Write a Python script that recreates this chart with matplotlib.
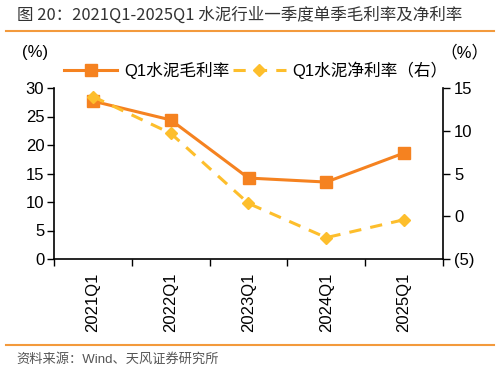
import matplotlib
matplotlib.use("Agg")
import matplotlib.pyplot as plt
from matplotlib.lines import Line2D
import numpy as np

plt.rcParams['font.family'] = ['Liberation Sans', 'Noto Sans CJK SC', 'DejaVu Sans']

categories = ["2021Q1", "2022Q1", "2023Q1", "2024Q1", "2025Q1"]
gross_margin = [27.7, 24.4, 14.2, 13.5, 18.6]
net_margin = [14.0, 9.7, 1.5, -2.5, -0.4]
left_ticks = [0, 5, 10, 15, 20, 25, 30]
right_ticks = [-5, 0, 5, 10, 15]
right_labels = ["(5)", "0", "5", "10", "15"]

orange = "#F58220"
yellow = "#FDBE2C"

W, H = 499, 372
fig = plt.figure(figsize=(W/100, H/100), dpi=100)
ax = fig.add_axes([54/W, 1-259/H, (443-54)/W, (259-88)/H])
ax2 = ax.twinx()

x = np.arange(len(categories))
ax.plot(x, gross_margin, color=orange, lw=2.2, marker='s', ms=8, zorder=3)
ax2.plot(x, net_margin, color=yellow, lw=2.2, ls=(0, (4, 3)), marker='D', ms=6, zorder=3)

ax.set_xlim(-0.5, len(categories)-0.5)
ax.set_ylim(0, 30)
ax2.set_ylim(-5, 15)
ax.set_yticks(left_ticks)
ax.set_yticklabels([str(t) for t in left_ticks])
ax2.set_yticks(right_ticks)
ax2.set_yticklabels(right_labels)

ax.set_xticks(np.arange(-0.5, len(categories)), minor=False)
ax.set_xticklabels([])
ax.set_xticks(x, minor=True)
ax.set_xticklabels(categories, minor=True, rotation=90, fontsize=12)
ax.tick_params(axis='x', which='major', length=5, direction='out', width=1)
ax.tick_params(axis='x', which='minor', length=0, pad=10)
ax.tick_params(axis='y', labelsize=12, length=5, width=1, direction='out', pad=2)
ax2.tick_params(axis='y', labelsize=12, length=5, width=1, direction='out', pad=3)

for a in (ax, ax2):
    a.spines['top'].set_visible(False)
ax.spines['right'].set_visible(False)
ax2.spines['left'].set_visible(False)
ax2.spines['bottom'].set_visible(False)
for s in ['left', 'bottom']:
    ax.spines[s].set_linewidth(1.2)
ax2.spines['right'].set_linewidth(1.2)

fig.text(22/W, 1-52/H, "(%)", fontsize=12, ha='left', va='center')
fig.text(440/W, 1-52/H, "（%）", fontsize=12, ha='left', va='center')

handles = [Line2D([], [], color=orange, lw=2.2, marker='s', ms=8),
           Line2D([], [], color=yellow, lw=2.2, ls=(0, (4, 3)), marker='D', ms=6)]
fig.legend(handles, ["Q1水泥毛利率", "Q1水泥净利率（右）"], loc='center',
           bbox_to_anchor=(256/W, 1-70/H), ncol=2, frameon=False, fontsize=12,
           handlelength=3.2, columnspacing=0.2, handletextpad=0.4)

fig.text(17/W, 1-15/H, "图 20：2021Q1-2025Q1 水泥行业一季度单季毛利率及净利率",
         fontsize=11.9, color='#333333', ha='left', va='center',
         family=['Noto Sans CJK SC', 'DejaVu Sans'], fontweight='medium')
fig.add_artist(Line2D([6/W, 494/W], [1-31/H, 1-31/H], color='#F39A3C', lw=1.5))
fig.add_artist(Line2D([6/W, 494/W], [1-345/H, 1-345/H], color='#F39A3C', lw=1.5))
fig.text(16/W, 1-359/H, "资料来源：Wind、天风证券研究所", fontsize=9.5,
         color='#555555', ha='left', va='center')

fig.savefig("out.png", dpi=100)
